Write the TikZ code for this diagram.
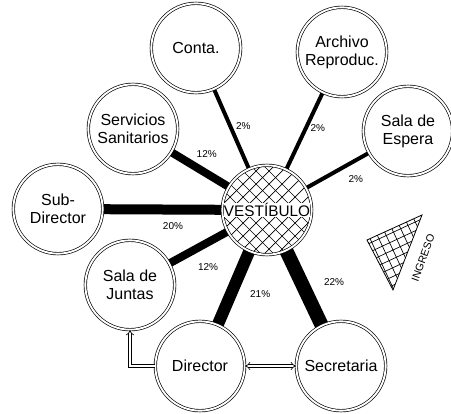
\documentclass[tikz,border=0pt]{standalone}
\usepackage{fontspec}
\setmainfont{Liberation Sans}
\usetikzlibrary{arrows.meta, backgrounds, calc}

\tikzset{
  room/.style={circle, draw, double, double distance=1.4pt, line width=0.5pt,
               fill=white, minimum size=67pt, inner sep=0pt, align=center,
               font=\fontsize{12}{13.5}\selectfont},
  flow/.style={line width=#1},
  pct/.style={font=\fontsize{7.5}{8}\selectfont, inner sep=1pt},
  passage/.style={double, double distance=1.5pt, line width=0.5pt}
}
\setlength{\fboxsep}{0.3pt}

\begin{document}
\begin{tikzpicture}[x=0.75pt, y=-0.75pt]
    \useasboundingbox (0,0) rectangle (451,414);
    % hall in the middle, hatched
    \node[room, font=\fontsize{11.5}{13}\selectfont, path picture={
        \begin{scope}[shift={(path picture bounding box.center)}]
          \foreach \i in {-7,...,7} {
            \draw[line width=0.5pt] (\i*9.75pt-60pt,-60pt) -- ++(120pt,120pt);
            \draw[line width=0.5pt] (\i*9.75pt+60pt,-60pt) -- ++(-120pt,120pt);
          }
        \end{scope}}] (vest) at (267,210) {\colorbox{white}{VESTÍBULO}};
    % rooms round it
    \node[room] (conta)      at (196,48)  {Conta.};
    \node[room] (archivo)    at (342,52)  {Archivo\\Reproduc.};
    \node[room] (espera)     at (408,131) {Sala de\\Espera};
    \node[room] (servicios)  at (133,129) {Servicios\\Sanitarios};
    \node[room] (subdir)     at (58,209)  {Sub-\\Director};
    \node[room] (juntas)     at (130,285) {Sala de\\Juntas};
    \node[room] (director)   at (200,366) {Director};
    \node[room] (secretaria) at (341,366) {Secretaria};

    % flows from the hall
    \begin{scope}[on background layer]
        \draw[flow=3pt]   (vest.center) -- node[pct, pos=0.52, right=2pt] {2\%} (conta.center);
        \draw[flow=3pt]   (vest.center) -- node[pct, pos=0.52, right=1pt] {2\%} (archivo.center);
        \draw[flow=3pt]   (vest.center) -- node[pct, pos=0.63, below=9pt] {2\%} (espera.center);
        \draw[flow=6pt]   (vest.center) -- node[pct, pos=0.45, above=8pt] {12\%} (servicios.center);
        \draw[flow=7.5pt] (vest.center) -- node[pct, pos=0.45, below=5pt] {20\%} (subdir.center);
        \draw[flow=6pt]   (vest.center) -- node[pct, pos=0.43, below=12pt] {12\%} (juntas.center);
        \draw[flow=9pt]   (vest.center) -- node[pct, pos=0.54, right=9pt] {21\%} (director.center);
        \draw[flow=10.5pt](vest.center) -- node[pct, pos=0.46, right=11pt] {22\%} (secretaria.center);
    \end{scope}

    % passages
    \draw[passage, {Implies}-{Implies}] (director.east) -- (secretaria.west);
    \draw[passage, -{Implies}] (director.west) -| (juntas.south);

    % entrance
    \coordinate (tipA) at (422,215);
    \coordinate (tipB) at (367,240);
    \coordinate (tipC) at (393,290);
    \begin{scope}
        \clip (tipA) -- (tipB) -- (tipC) -- cycle;
        \foreach \k in {-9,...,9}
            \draw[line width=0.5pt, rotate around={25:(393,250)}]
                (393+\k*8,180) -- (393+\k*8,320)
                (320,250+\k*8) -- (470,250+\k*8);
    \end{scope}
    \draw[line width=0.6pt] (tipA) -- (tipB) -- (tipC) -- cycle;
    \node[rotate=70, font=\fontsize{8}{9}\selectfont, inner sep=1pt] (ingreso) at (423,258) {INGRESO};
\end{tikzpicture}
\end{document}
